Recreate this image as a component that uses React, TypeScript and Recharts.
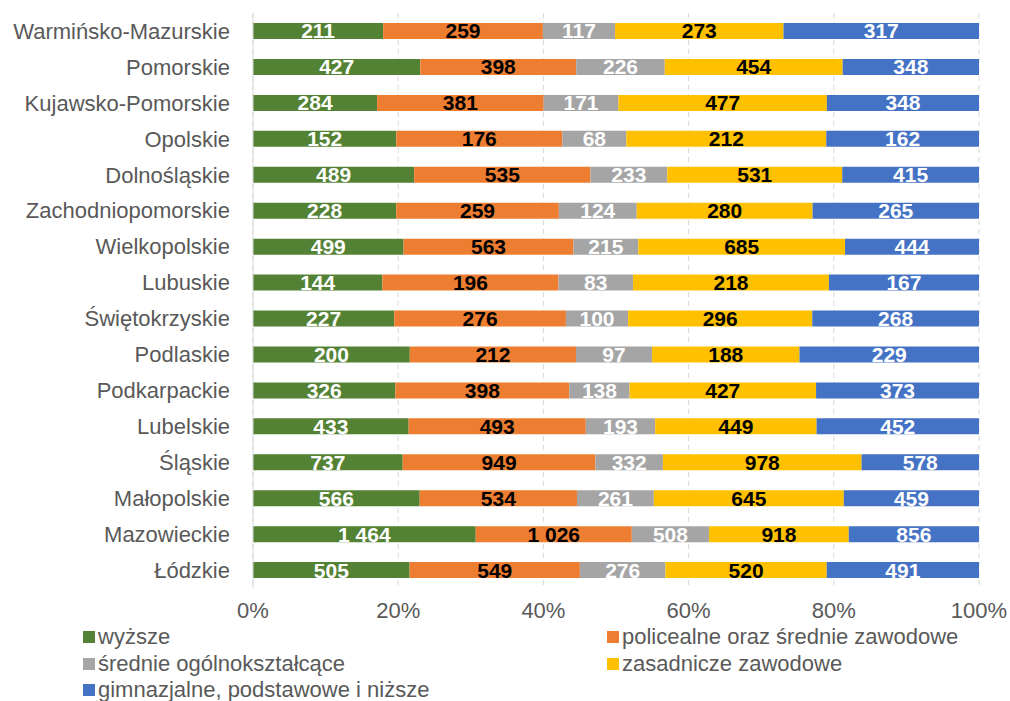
import { BarChart, Bar, XAxis, YAxis, CartesianGrid, LabelList, Legend } from 'recharts';

const regions = [
    'Warmińsko-Mazurskie',
    'Pomorskie',
    'Kujawsko-Pomorskie',
    'Opolskie',
    'Dolnośląskie',
    'Zachodniopomorskie',
    'Wielkopolskie',
    'Lubuskie',
    'Świętokrzyskie',
    'Podlaskie',
    'Podkarpackie',
    'Lubelskie',
    'Śląskie',
    'Małopolskie',
    'Mazowieckie',
    'Łódzkie',
];

const wyzsze = [211, 427, 284, 152, 489, 228, 499, 144, 227, 200, 326, 433, 737, 566, 1464, 505];
const policealne = [259, 398, 381, 176, 535, 259, 563, 196, 276, 212, 398, 493, 949, 534, 1026, 549];
const srednieOgolne = [117, 226, 171, 68, 233, 124, 215, 83, 100, 97, 138, 193, 332, 261, 508, 276];
const zasadnicze = [273, 454, 477, 212, 531, 280, 685, 218, 296, 188, 427, 449, 978, 645, 918, 520];
const gimnazjalne = [317, 348, 348, 162, 415, 265, 444, 167, 268, 229, 373, 452, 578, 459, 856, 491];

const xTicks = [0, 0.2, 0.4, 0.6, 0.8, 1];

const series = [
    { key: 'wyzsze', name: 'wyższe', color: '#548235', label: '#ffffff' },
    { key: 'policealne', name: 'policealne oraz średnie zawodowe', color: '#ED7D31', label: '#000000' },
    { key: 'srednieOgolne', name: 'średnie ogólnokształcące', color: '#A5A5A5', label: '#ffffff' },
    { key: 'zasadnicze', name: 'zasadnicze zawodowe', color: '#FFC000', label: '#000000' },
    { key: 'gimnazjalne', name: 'gimnazjalne, podstawowe i niższe', color: '#4472C4', label: '#ffffff' },
];

const data = regions.map((name, i) => ({
    name,
    wyzsze: wyzsze[i],
    policealne: policealne[i],
    srednieOgolne: srednieOgolne[i],
    zasadnicze: zasadnicze[i],
    gimnazjalne: gimnazjalne[i],
}));

const fontFamily = '"Liberation Sans", Arial, sans-serif';
const textColor = '#595959';

const formatNumber = (v: any) => {
    const n = Number(v);
    if (isNaN(n)) return '';
    return String(n).replace(/\B(?=(\d{3})+(?!\d))/g, ' ');
};

function LegendBox() {
    return (
        <div
            style={{
                position: 'relative',
                width: 1010,
                height: 76,
                fontFamily,
                fontSize: 22,
                color: textColor,
            }}
        >
            {series.map((s, i) => (
                <div
                    key={s.key}
                    style={{
                        position: 'absolute',
                        left: i % 2 === 0 ? 83 : 607,
                        top: Math.floor(i / 2) * 26.5,
                        whiteSpace: 'nowrap',
                        lineHeight: '22px',
                    }}
                >
                    <span
                        style={{
                            display: 'inline-block',
                            width: 12,
                            height: 12,
                            background: s.color,
                            marginRight: 3,
                            verticalAlign: 'middle',
                            position: 'relative',
                            top: -1,
                        }}
                    />
                    {s.name}
                </div>
            ))}
        </div>
    );
}

export default function App() {
    return (
        <div style={{ position: 'absolute', left: 0, top: 0, background: '#fff' }}>
            <BarChart
                width={1010}
                height={701}
                data={data}
                layout='vertical'
                stackOffset='expand'
                margin={{ top: 13, right: 31, left: 0, bottom: 73 }}
            >
                <CartesianGrid
                    horizontal={false}
                    stroke='#d9d9d9'
                    strokeDasharray='5 4'
                />
                <XAxis
                    type='number'
                    domain={[0, 1]}
                    ticks={xTicks}
                    tickFormatter={(v: number) => `${Math.round(v * 100)}%`}
                    axisLine={false}
                    tickLine={false}
                    tickSize={0}
                    tickMargin={14}
                    height={40}
                    tick={{ fill: textColor, fontSize: 22, fontFamily }}
                />
                <YAxis
                    type='category'
                    dataKey='name'
                    width={253}
                    axisLine={{ stroke: '#d9d9d9' }}
                    tickLine={false}
                    tickSize={0}
                    tickMargin={23}
                    interval={0}
                    tick={{ fill: textColor, fontSize: 22, fontFamily }}
                />
                <Legend
                    layout='horizontal'
                    align='center'
                    verticalAlign='middle'
                    wrapperStyle={{ left: 0, top: 626, width: 1010 }}
                    content={() => <LegendBox />}
                />
                {series.map((s) => (
                    <Bar
                        key={s.key}
                        dataKey={s.key}
                        name={s.name}
                        stackId='a'
                        fill={s.color}
                        barSize={16}
                        isAnimationActive={false}
                    >
                        <LabelList
                            dataKey={s.key}
                            position='center'
                            formatter={formatNumber}
                            fill={s.label}
                            fontSize={21}
                            fontWeight='bold'
                            fontFamily={fontFamily}
                        />
                    </Bar>
                ))}
            </BarChart>
        </div>
    );
}
